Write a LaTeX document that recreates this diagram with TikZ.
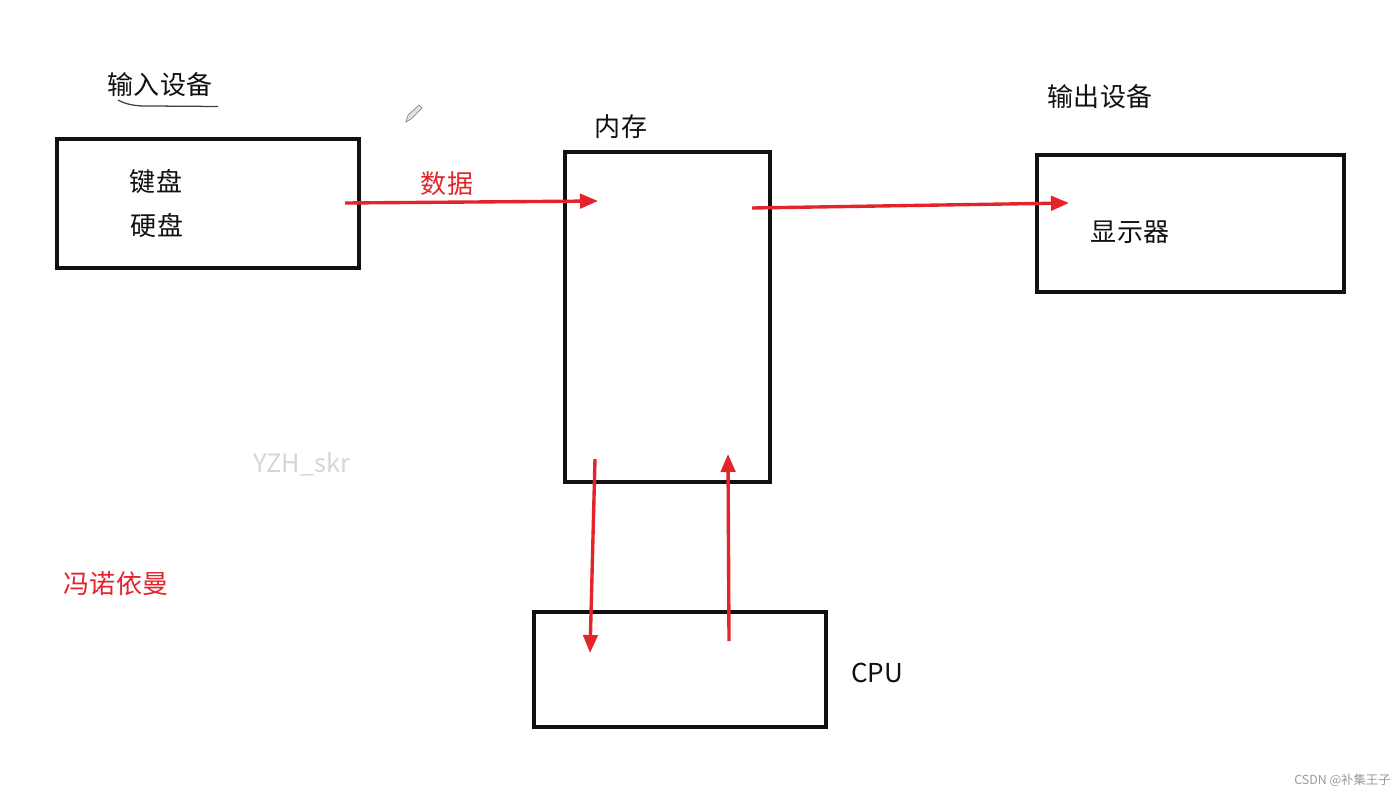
\documentclass[tikz,border=0pt]{standalone}
\usepackage{fontspec}
\setmainfont{Noto Sans CJK SC}
\usepackage{tikz}
\usepackage{xcolor}
\usetikzlibrary{arrows.meta,calc,positioning}
\definecolor{InkRed}{HTML}{E3242B}
\definecolor{BoxBlack}{HTML}{111111}
\definecolor{MarkGray}{HTML}{D6D6D6}
\definecolor{SignGray}{HTML}{9A9A9A}

\begin{document}
\begin{tikzpicture}[
      x=0.025cm,y=-0.025cm,
      font=\fontsize{18.5pt}{22pt}\selectfont,
      >={Triangle[length=0.45cm,width=0.36cm]},
      unit/.style={draw=BoxBlack,line width=2.7pt,rectangle,inner sep=0pt},
      caption/.style={text=BoxBlack,inner sep=0pt},
      redlabel/.style={text=InkRed,inner sep=0pt},
      flow/.style={->,line width=2.4pt,draw=InkRed}
    ]
      % canvas
      \path[fill=white] (0,0) rectangle (1400,794);
      \useasboundingbox (0,0) rectangle (1400,794);

      % boxes
      \node[unit,minimum width=7.55cm,minimum height=3.225cm] (input) at (208,203.5) {};
      \node[unit,minimum width=5.125cm,minimum height=8.25cm] (memory) at (667.5,317) {};
      \node[unit,minimum width=7.675cm,minimum height=3.425cm] (output) at (1190.5,223.5) {};
      \node[unit,minimum width=7.3cm,minimum height=2.875cm] (cpu) at (680,669.5) {};

      % labels
      \node[caption] (inputlbl) at (160,85) {输入设备};
      \node[caption] (keyboard) at (156,182) {键盘};
      \node[caption] (disk) at (157,226) {硬盘};
      \node[caption] (memorylbl) at (621,127) {内存};
      \node[caption] (outputlbl) at (1100,97) {输出设备};
      \node[caption] (screen) at (1130,232) {显示器};
      \node[caption] (cpulbl) at (877,673) {CPU};
      \node[redlabel] (datalbl) at (447,184) {数据};
      \node[redlabel] (vonneumann) at (116,584) {冯诺依曼};
      \node[text=MarkGray,inner sep=0pt,font=\fontsize{18pt}{22pt}\selectfont] (mark) at (302,464) {YZH\_skr};
      \node[text=SignGray,inner sep=0pt,anchor=east,font=\fontsize{8.8pt}{10pt}\selectfont] (sign) at (1391,780) {CSDN @补集王子};

      % hand strokes
      \draw[line width=0.9pt,draw=black!75] (118,100) .. controls (125,104) and (135,106.5) .. (150,106) -- (218,106.5);
      \draw[draw=black!45,fill=black!12,line width=0.5pt] (406,122) -- (408,115) -- (419,105) -- (422,108) -- (411,119) -- cycle;

      % arrow ends
      \coordinate (in0) at (345,203);
      \coordinate (in1) at (598,201);
      \coordinate (out0) at (752,208);
      \coordinate (out1) at (1069,203);
      \coordinate (down0) at (595,459);
      \coordinate (down1) at (590,653);
      \coordinate (up0) at (729,641);
      \coordinate (up1) at (728,454);

      \draw[flow] (in0) -- (in1);
      \draw[flow] (out0) -- (out1);
      \draw[flow] (down0) -- (down1);
      \draw[flow] (up0) -- (up1);
    \end{tikzpicture}
\end{document}
